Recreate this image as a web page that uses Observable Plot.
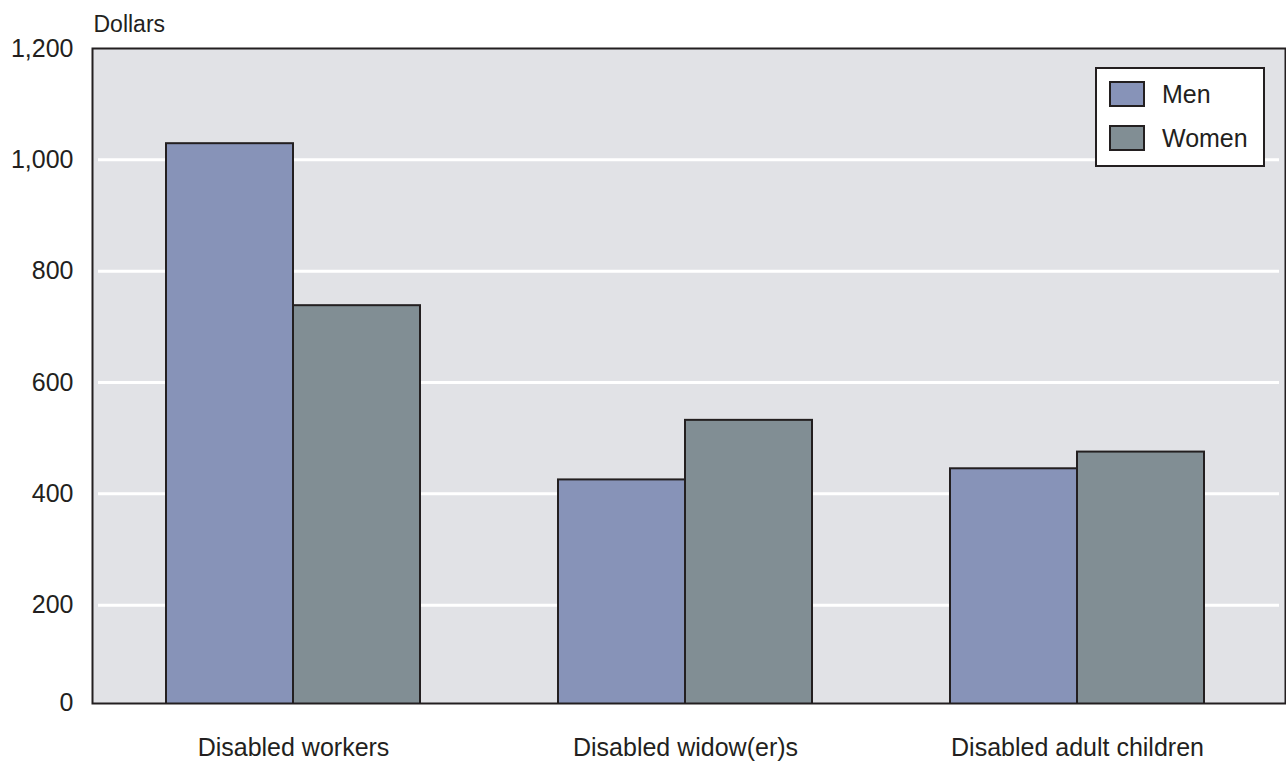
<!DOCTYPE html>
<html>
<head>
<meta charset="utf-8">
<script src="https://cdn.jsdelivr.net/npm/d3@7"></script>
<script src="https://cdn.jsdelivr.net/npm/@observablehq/plot@0.6"></script>
<style>
  html, body { margin: 0; padding: 0; background: #ffffff; }
  #wrap { position: relative; width: 1286px; height: 761px; font-family: "Liberation Sans", Arial, Helvetica, sans-serif; color: #231f20; }
  #wrap svg { position: absolute; left: 0; top: 0; }
  .legend { position: absolute; left: 1095px; top: 67px; width: 170px; height: 100px; box-sizing: border-box;
            border: 2px solid #231f20; background: #ffffff; }
  .legend .item { position: absolute; left: 12px; height: 26px; display: flex; align-items: center; }
  .legend .sw { width: 36px; height: 26px; box-sizing: border-box; border: 2px solid #231f20; margin-right: 17px; }
  .legend .lab { font-size: 25px; line-height: 26px; }
</style>
</head>
<body>
<div id="wrap"></div>
<script>
// ---- data ----
const categories = ["Disabled workers", "Disabled widow(er)s", "Disabled adult children"];
const series = ["Men", "Women"];
const menValues = [1029, 425, 445];
const womenValues = [738, 532, 475];
const yTicks = [0, 200, 400, 600, 800, 1000, 1200];
const gridTicks = [200, 400, 600, 800, 1000];
const yAxisLabel = "Dollars";
const colors = {Men: "#8793b8", Women: "#818e94"};

const menRows = categories.map((c, i) => ({category: c, value: menValues[i]}));
const womenRows = categories.map((c, i) => ({category: c, value: womenValues[i]}));

const ink = "#231f20";
const fmt = d3.format(",");

const chart = Plot.plot({
  width: 1286,
  height: 761,
  marginLeft: 92,
  marginRight: 1,
  marginTop: 48,
  marginBottom: 58,
  style: {fontFamily: "'Liberation Sans', Arial, Helvetica, sans-serif", fontSize: "25px", color: ink, background: "transparent"},
  x: {
    domain: categories,
    range: [165, 1204],
    paddingInner: 0.353,
    paddingOuter: 0,
    tickSize: 0,
    tickPadding: 35,
    label: null
  },
  y: {
    domain: [0, 1200],
    range: [716, 48],
    ticks: yTicks.slice(1),
    tickFormat: fmt,
    tickSize: 0,
    tickPadding: 19,
    label: null
  },
  marks: [
    Plot.frame({fill: "#e1e2e6", stroke: "none"}),
    Plot.ruleY(gridTicks, {stroke: "#ffffff", strokeWidth: 3, insetLeft: 6, insetRight: 6}),
    Plot.barY(menRows, {x: "category", y: "value", fill: colors.Men, stroke: ink, strokeWidth: 2, insetRight: 127, clip: true}),
    Plot.barY(womenRows, {x: "category", y: "value", fill: colors.Women, stroke: ink, strokeWidth: 2, insetLeft: 127, clip: true}),
    Plot.frame({stroke: ink, strokeWidth: 2}),
    // baseline tick label sits at the bottom of the frame, as in the reference
    Plot.text([yTicks[0]], {frameAnchor: "bottom-left", text: d => fmt(d), dx: -19, dy: 7, textAnchor: "end", fontSize: 25, fill: ink}),
    Plot.text([yAxisLabel], {frameAnchor: "top-left", text: d => d, dx: 1, dy: -33, textAnchor: "start", fontSize: 23, fill: ink})
  ]
});

const wrap = document.getElementById("wrap");
wrap.appendChild(chart);

// legend box drawn inside plot area (as in reference)
const legend = document.createElement("div");
legend.className = "legend";
series.forEach((s, i) => {
  const item = document.createElement("div");
  item.className = "item";
  item.style.top = (12 + i * 44) + "px";
  const sw = document.createElement("div");
  sw.className = "sw";
  sw.style.background = colors[s];
  const lab = document.createElement("span");
  lab.className = "lab";
  lab.textContent = s;
  item.appendChild(sw);
  item.appendChild(lab);
  legend.appendChild(item);
});
wrap.appendChild(legend);
</script>
</body>
</html>
